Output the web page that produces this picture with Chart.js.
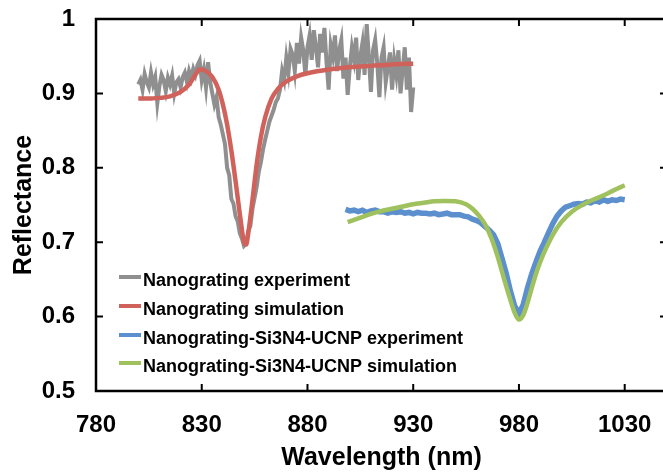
<!DOCTYPE html>
<html>
<head>
    <title>Reflectance</title>
    <script src="https://cdn.jsdelivr.net/npm/chart.js"></script>
    <style>
        html, body { margin: 0; padding: 0; overflow: hidden; background: #fff; }
    </style>
</head>
<body>
<canvas id="myChart" width="670" height="475"></canvas>
<script>
    // Nanograting experiment (gray)
    var grayWl = [800,801,802,803,804,805,806,807,808,809,810,811,812,813,814,815,816,817,818,819,
        820,821,822,823,824,825,826,827,828,829,830,831,832,833,834,835,836,837,838,839,
        840,841,842,843,844,845,846,847,848,849,850,851,852,853,854,855,856,857,858,859,
        860,861,862,863,864,865,866,867,868,869,870,871,872,873,874,875,876,877,878,879,
        880,881,882,883,884,885,886,887,888,889,890,891,892,893,894,895,896,897,898,899,
        900,901,902,903,904,905,906,907,908,909,910,911,912,913,914,915,916,917,918,919,
        920,921,922,923,924,925,926,927,928,929,930];
    var grayR = [0.912,0.918,0.905,0.926,0.915,0.908,0.928,0.912,0.922,0.887,0.910,0.925,0.918,0.903,0.921,0.912,0.924,0.900,0.915,0.919,
        0.908,0.922,0.928,0.915,0.930,0.920,0.933,0.925,0.938,0.944,0.918,0.932,0.908,0.942,0.915,0.900,0.885,0.895,0.868,0.858,
        0.845,0.832,0.800,0.790,0.758,0.752,0.735,0.728,0.712,0.705,0.695,0.698,0.715,0.722,0.745,0.760,0.775,0.795,0.808,0.825,
        0.838,0.850,0.862,0.870,0.878,0.888,0.893,0.905,0.930,0.918,0.948,0.928,0.960,0.952,0.930,0.968,0.940,0.975,0.958,0.925,
        0.962,0.978,0.945,0.985,0.962,0.935,0.980,0.955,0.988,0.942,0.905,0.965,0.950,0.978,0.930,0.958,0.972,0.920,0.948,0.898,
        0.935,0.962,0.945,0.975,0.918,0.950,0.968,0.925,0.993,0.950,0.902,0.958,0.972,0.940,0.895,0.948,0.962,0.915,0.935,0.955,
        0.905,0.945,0.925,0.958,0.900,0.932,0.962,0.905,0.948,0.875,0.908];

    // Nanograting simulation (red)
    var redWl = [800,805,810,815,820,824,827,829,832,835,838,840,842,844,846,848,850,851,852,854,856,858,860,863,866,870,875,880,890,900,910,920,930];
    var redR  = [0.893,0.893,0.894,0.896,0.902,0.912,0.925,0.932,0.930,0.922,0.905,0.885,0.858,0.823,0.782,0.738,0.700,0.697,0.712,0.757,0.805,0.842,0.868,0.893,0.906,0.916,0.923,0.927,0.932,0.935,0.937,0.939,0.940];

    // Nanograting-Si3N4-UCNP experiment (blue)
    var blueWl = [898,900,902,904,906,908,910,912,914,916,918,920,922,924,926,928,930,932,934,936,938,940,942,944,946,948,950,952,954,956,958,960,
        962,964,966,968,970,972,974,976,978,980,982,984,986,988,990,992,994,996,998,1000,1002,1004,1006,1008,1010,1012,1014,1016,1018,1020,1022,1024,1026,1028,1030];
    var blueR  = [0.744,0.742,0.743,0.741,0.743,0.740,0.742,0.743,0.741,0.741,0.739,0.741,0.740,0.741,0.739,0.740,0.738,0.740,0.739,0.739,0.738,0.739,0.737,0.738,0.739,0.737,0.737,0.737,0.735,0.734,0.731,0.729,
        0.726,0.721,0.716,0.710,0.698,0.678,0.658,0.634,0.614,0.604,0.616,0.638,0.657,0.673,0.688,0.700,0.713,0.725,0.735,0.742,0.747,0.749,0.751,0.752,0.751,0.754,0.753,0.756,0.754,0.757,0.755,0.757,0.756,0.758,0.757];

    // Nanograting-Si3N4-UCNP simulation (green)
    var greenWl = [899,905,910,915,920,925,930,935,940,945,950,955,958,961,964,967,970,973,976,978,980,982,984,986,988,990,993,996,1000,1005,1010,1015,1020,1025,1030];
    var greenR  = [0.727,0.733,0.738,0.742,0.745,0.748,0.751,0.753,0.755,0.7555,0.755,0.751,0.745,0.736,0.724,0.705,0.680,0.650,0.622,0.605,0.596,0.602,0.618,0.638,0.657,0.673,0.693,0.710,0.727,0.741,0.750,0.757,0.763,0.770,0.7765];

    var seriesNames = ['Nanograting experiment', 'Nanograting simulation', 'Nanograting-Si3N4-UCNP experiment', 'Nanograting-Si3N4-UCNP simulation'];
    var seriesColors = ['#8f8f8f', '#d0625b', '#5b8fcd', '#a0c25e'];

    var xTicks = [780, 830, 880, 930, 980, 1030];
    var yTicks = [0.5, 0.6, 0.7, 0.8, 0.9, 1.0];
    var yTickLabels = ['0.5', '0.6', '0.7', '0.8', '0.9', '1'];

    function pts(xs, ys) {
        return xs.map(function (x, i) { return {x: x, y: ys[i]}; });
    }

    var FONT = '"Liberation Sans", Arial, sans-serif';

    // box with inward ticks on all four sides
    var boxPlugin = {
        id: 'box',
        afterDatasetsDraw: function (chart) {
            var a = chart.chartArea, c = chart.ctx;
            var xs = chart.scales.x, ys = chart.scales.y;
            c.save();
            c.strokeStyle = '#000';
            c.lineWidth = 2.5;
            c.strokeRect(a.left, a.top, a.right - a.left, a.bottom - a.top);
            c.lineWidth = 2;
            c.beginPath();
            xTicks.forEach(function (v) {
                var px = xs.getPixelForValue(v);
                c.moveTo(px, a.bottom); c.lineTo(px, a.bottom - 7);
                c.moveTo(px, a.top); c.lineTo(px, a.top + 7);
            });
            yTicks.forEach(function (v) {
                var py = ys.getPixelForValue(v);
                c.moveTo(a.left, py); c.lineTo(a.left + 7, py);
                c.moveTo(a.right, py); c.lineTo(a.right - 7, py);
            });
            c.stroke();
            c.restore();
        }
    };

    // legend drawn inside the plot, lower left
    var legendPlugin = {
        id: 'innerLegend',
        afterDraw: function (chart) {
            var c = chart.ctx;
            var rows = [277, 306, 335, 363];
            c.save();
            c.font = 'bold 18px ' + FONT;
            c.textBaseline = 'alphabetic';
            c.textAlign = 'left';
            seriesNames.forEach(function (name, i) {
                c.strokeStyle = seriesColors[i];
                c.lineWidth = 4;
                c.beginPath();
                c.moveTo(119, rows[i]);
                c.lineTo(141, rows[i]);
                c.stroke();
                c.fillStyle = '#000';
                c.fillText(name, 143, rows[i] + 8.5);
            });
            c.restore();
        }
    };

    var ctx = document.getElementById('myChart').getContext('2d');
    var chart = new Chart(ctx, {
        type: 'line',
        data: {
            datasets: [{
                label: seriesNames[0],
                data: pts(grayWl, grayR),
                borderColor: seriesColors[0],
                borderWidth: 4,
                pointRadius: 0,
                tension: 0,
                order: 3
            }, {
                label: seriesNames[1],
                data: pts(redWl, redR),
                borderColor: seriesColors[1],
                borderWidth: 4.5,
                pointRadius: 0,
                cubicInterpolationMode: 'monotone',
                order: 1
            }, {
                label: seriesNames[2],
                data: pts(blueWl, blueR),
                borderColor: seriesColors[2],
                borderWidth: 5.5,
                pointRadius: 0,
                tension: 0,
                order: 4
            }, {
                label: seriesNames[3],
                data: pts(greenWl, greenR),
                borderColor: seriesColors[3],
                borderWidth: 4.5,
                pointRadius: 0,
                cubicInterpolationMode: 'monotone',
                order: 2
            }]
        },
        options: {
            responsive: false,
            animation: false,
            devicePixelRatio: 1,
            layout: { padding: { top: 19, right: 3, left: 0, bottom: 0 } },
            plugins: {
                legend: { display: false },
                tooltip: { enabled: false }
            },
            scales: {
                x: {
                    type: 'linear',
                    min: 780,
                    max: 1050,
                    grid: { display: false, drawTicks: false },
                    border: { display: false },
                    afterBuildTicks: function (s) { s.ticks = xTicks.map(function (v) { return {value: v}; }); },
                    afterFit: function (s) { s.height = 84; s.paddingLeft = 0; s.paddingRight = 0; },
                    ticks: {
                        padding: 20,
                        color: '#000',
                        font: { family: FONT, size: 24, weight: 'bold' },
                        callback: function (v) { return String(v); }
                    },
                    title: {
                        display: true,
                        text: 'Wavelength (nm)',
                        color: '#000',
                        font: { family: FONT, size: 25, weight: 'bold' },
                        padding: { top: 0, bottom: 2 }
                    }
                },
                y: {
                    min: 0.5,
                    max: 1,
                    grid: { display: false, drawTicks: false },
                    border: { display: false },
                    afterBuildTicks: function (s) { s.ticks = yTicks.map(function (v) { return {value: v}; }); },
                    afterFit: function (s) { s.width = 96; s.paddingTop = 0; s.paddingBottom = 0; },
                    ticks: {
                        padding: 21,
                        color: '#000',
                        font: { family: FONT, size: 24, weight: 'bold' },
                        callback: function (v) { return yTickLabels[yTicks.indexOf(Math.round(v * 10) / 10)]; }
                    },
                    title: {
                        display: true,
                        text: 'Reflectance',
                        color: '#000',
                        font: { family: FONT, size: 25, weight: 'bold' },
                        padding: { top: 9, bottom: 0 }
                    }
                }
            }
        },
        plugins: [boxPlugin, legendPlugin]
    });
</script>
</body>
</html>
